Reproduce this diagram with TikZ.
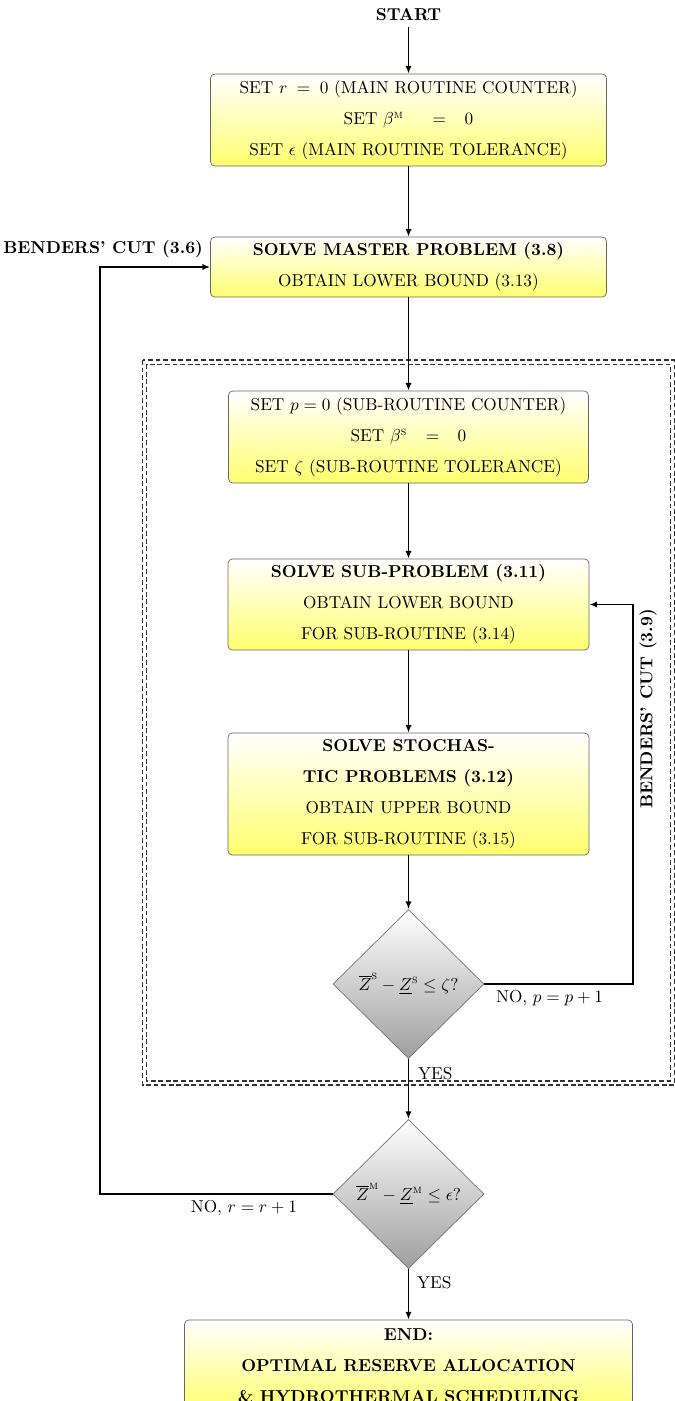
\documentclass[tikz,border=0pt]{standalone}
\usepackage{amsmath}
\usetikzlibrary{shapes.geometric,arrows.meta}
\definecolor{boxyellow}{RGB}{255,255,110}
\begin{document}
\begin{tikzpicture}[x=0.58pt,y=-0.58pt,
  every node/.style={font=\normalsize},
  procbox/.style={draw=black!60, line width=0.4pt, rounded corners=2.5pt,
    top color=white, bottom color=boxyellow, align=center, inner sep=0pt},
  decision/.style={diamond, aspect=1, draw=black!55, line width=0.4pt,
    top color=white, middle color=black!12, bottom color=black!38, inner sep=0pt,
    minimum width=151*0.58pt, minimum height=149*0.58pt},
  flow/.style={line width=1.1pt, -{Latex[length=4.5pt,width=3.6pt]}},
  frameline/.style={dash pattern=on 2.8pt off 1.6pt, line width=0.6pt, black!80},
  lab/.style={font=\bfseries}]
\useasboundingbox (0,0) rectangle (675,1401);

% sub-routine frame (double dashed)
\draw[frameline] (142.7,360) rectangle (674.5,1085);
\draw[frameline] (146.7,364.3) rectangle (670.5,1081);

% steps
\node[lab] (start) at (408.5,15) {START};
\node[procbox, minimum width=396*0.58pt, minimum height=92*0.58pt] (init) at (408.5,120)
  {SET $r\;=\;0$ (MAIN ROUTINE COUNTER)\\[6pt]
   SET $\beta^{\textsc{m}}\hspace{14pt}=\hspace{8pt}0$\\[6pt]
   SET $\epsilon$ (MAIN ROUTINE TOLERANCE)};
\node[procbox, minimum width=396*0.58pt, minimum height=60*0.58pt] (master) at (408.5,267)
  {\textbf{SOLVE MASTER PROBLEM (3.8)}\\[6pt]
   OBTAIN LOWER BOUND (3.13)};
\node[procbox, minimum width=360*0.58pt, minimum height=92*0.58pt] (subinit) at (408.5,437)
  {SET $p = 0$ (SUB-ROUTINE COUNTER)\\[6pt]
   SET $\beta^{\textsc{s}}\hspace{8pt}=\hspace{8pt}0$\\[6pt]
   SET $\zeta$ (SUB-ROUTINE TOLERANCE)};
\node[procbox, minimum width=361*0.58pt, minimum height=91*0.58pt] (sub) at (408.5,604.5)
  {\textbf{SOLVE SUB-PROBLEM (3.11)}\\[6pt]
   OBTAIN LOWER BOUND\\[6pt]
   FOR SUB-ROUTINE (3.14)};
\node[procbox, minimum width=361*0.58pt, minimum height=122*0.58pt] (stoch) at (408.5,794)
  {\textbf{SOLVE STOCHAS-}\\[6pt]
   \textbf{TIC PROBLEMS (3.12)}\\[6pt]
   OBTAIN UPPER BOUND\\[6pt]
   FOR SUB-ROUTINE (3.15)};
\node[decision] (d1) at (408.5,984)
  {$\overline{Z}^{\textsc{s}}-\underline{Z}^{\textsc{s}}\le\zeta?$};
\node[decision] (d2) at (408.5,1194)
  {$\overline{Z}^{\textsc{m}}-\underline{Z}^{\textsc{m}}\le\epsilon?$};
\node[procbox, minimum width=448*0.58pt, minimum height=92*0.58pt] (finish) at (408.5,1366)
  {\textbf{END:}\\[6pt]
   \textbf{OPTIMAL RESERVE ALLOCATION}\\[6pt]
   \textbf{\& HYDROTHERMAL SCHEDULING}};

% labels
\node[lab, anchor=east] (cutmain) at (209,249) {BENDERS' CUT (3.6)};
\node[lab, rotate=90] (cutsub) at (648,709) {BENDERS' CUT (3.9)};
\node[anchor=west] (nop) at (490,998) {NO, $p=p+1$};
\node[anchor=east] (nor) at (303,1208) {NO, $r=r+1$};
\node[anchor=west] (yes1) at (412,1074) {YES};
\node[anchor=west] (yes2) at (411,1283) {YES};

% main flow
\draw[flow] (start) -- (init);
\draw[flow] (init) -- (master);
\draw[flow] (master) -- (subinit);
\draw[flow] (subinit) -- (sub);
\draw[flow] (sub) -- (stoch);
\draw[flow] (stoch) -- (d1);
\draw[flow] (d1) -- (d2);
\draw[flow] (d2) -- (finish);

% feedback loops
\coordinate (loopsub) at (633,984);
\draw[flow] (d1.east) -- (loopsub) |- (sub.east);
\coordinate (loopmain) at (100,1194);
\draw[flow] (d2.west) -- (loopmain) |- (master.west);
\end{tikzpicture}
\end{document}
